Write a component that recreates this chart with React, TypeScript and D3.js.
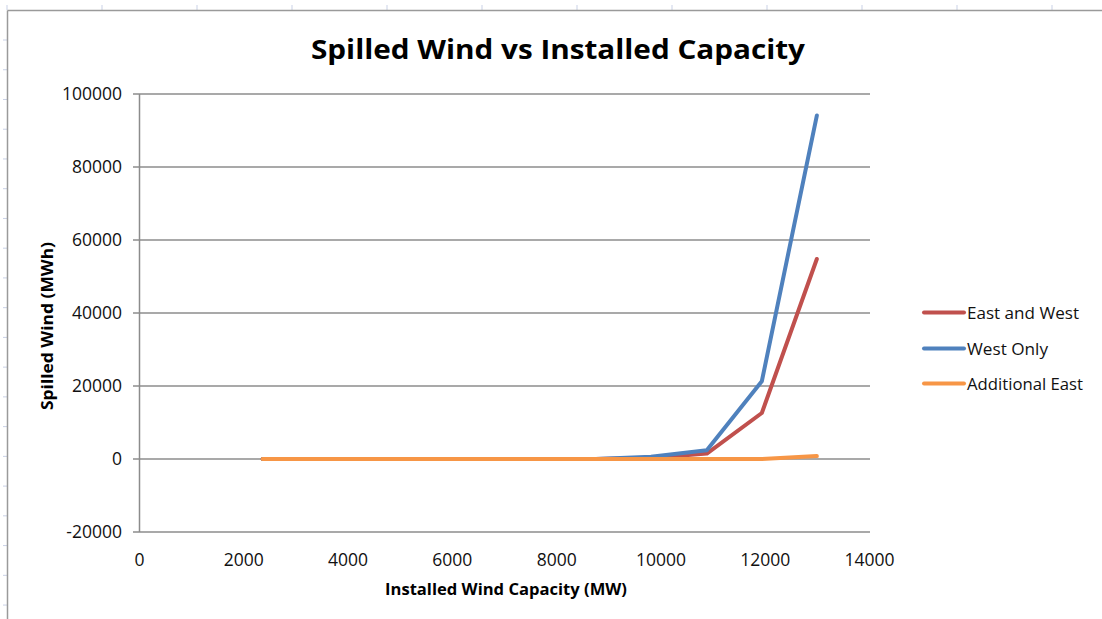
import React from "react";
import * as d3 from "d3";

// Installed wind capacity (MW) at each study point
const capacity = [2360, 3420, 4490, 5550, 6620, 7690, 8750, 9810, 10880, 11935, 12990];

// Spilled wind (MWh) per scenario
const eastAndWest = [0, 0, 0, 0, 0, 0, 0, 300, 1500, 12600, 54800];
const westOnly = [0, 0, 0, 0, 0, 0, 0, 600, 2400, 21300, 94100];
const additionalEast = [0, 0, 0, 0, 0, 0, 0, 0, 0, 0, 800];

const xTicks = [0, 2000, 4000, 6000, 8000, 10000, 12000, 14000];
const yTicks = [-20000, 0, 20000, 40000, 60000, 80000, 100000];

const seriesNames = ["East and West", "West Only", "Additional East"];
const seriesColors = ["#C0504D", "#4F81BD", "#F79646"];
const legendWidths = [112, 81, 116];

const W = 1102;
const H = 619;
const FONT = "'Open Sans', 'Liberation Sans', sans-serif";

export default function App() {
  const x = d3.scaleLinear().domain([0, 14000]).range([139.5, 869.5]);
  const y = d3.scaleLinear().domain([-20000, 100000]).range([532, 94]);

  const line = d3
    .line<[number, number]>()
    .x((d) => x(d[0]))
    .y((d) => y(d[1]));

  const series = [eastAndWest, westOnly, additionalEast].map((vals) =>
    capacity.map((c, i) => [c, vals[i]] as [number, number])
  );

  // worksheet cell marks peeking around the chart frame
  const colMarks = d3.range(0, 12).map((k) => 7 + k * 95);
  const rowMarks = d3.range(0, 20).map((k) => 40 + k * 29.74);

  const legendY = [312.5, 348.5, 383.5];

  return (
    <svg
      width={W}
      height={H}
      style={{ position: "absolute", left: 0, top: 0, background: "#fff" }}
      fontFamily={FONT}
    >
      <rect x={0} y={0} width={W} height={H} fill="#fff" />
      {colMarks.map((cx) => (
        <line key={"c" + cx} x1={cx} x2={cx} y1={5} y2={10} stroke="#c9d1e6" strokeWidth={1} />
      ))}
      {rowMarks.map((ry) => (
        <line key={"r" + ry} x1={3} x2={7} y1={ry} y2={ry} stroke="#c9d1e6" strokeWidth={1} />
      ))}
      {/* chart frame */}
      <line x1={7.5} x2={W} y1={10.5} y2={10.5} stroke="#9a9a9a" strokeWidth={1.5} />
      <line x1={7.5} x2={7.5} y1={10.5} y2={H} stroke="#9a9a9a" strokeWidth={1.5} />

      {/* title */}
      <text
        x={558}
        y={59}
        textAnchor="middle"
        fontSize={26}
        fontWeight="bold"
        fill="#000"
        textLength={494}
        lengthAdjust="spacingAndGlyphs"
      >
        Spilled Wind vs Installed Capacity
      </text>

      {/* horizontal gridlines with tick stubs */}
      {yTicks.map((t) => (
        <g key={"y" + t}>
          <line x1={133} x2={870} y1={y(t)} y2={y(t)} stroke="#8c8c8c" strokeWidth={1.5} />
          <text x={122} y={y(t) + 6} textAnchor="end" fontSize={17.5} fill="#111">
            {t}
          </text>
        </g>
      ))}
      {/* vertical axis */}
      <line x1={139.5} x2={139.5} y1={y(100000)} y2={y(-20000)} stroke="#8c8c8c" strokeWidth={1.5} />

      {/* x tick labels */}
      {xTicks.map((t) => (
        <text key={"x" + t} x={x(t)} y={566} textAnchor="middle" fontSize={17.5} fill="#111">
          {t}
        </text>
      ))}

      {/* axis titles */}
      <text
        x={506}
        y={595}
        textAnchor="middle"
        fontSize={15.5}
        fontWeight="bold"
        fill="#000"
        textLength={242}
        lengthAdjust="spacingAndGlyphs"
      >
        Installed Wind Capacity  (MW)
      </text>
      <text
        transform={`translate(53,326) rotate(-90)`}
        textAnchor="middle"
        fontSize={15.5}
        fontWeight="bold"
        fill="#000"
        textLength={168}
        lengthAdjust="spacingAndGlyphs"
      >
        Spilled Wind  (MWh)
      </text>

      {/* series lines */}
      {series.map((pts, i) => (
        <path
          key={seriesNames[i]}
          d={line(pts) || ""}
          fill="none"
          stroke={seriesColors[i]}
          strokeWidth={4}
          strokeLinejoin="round"
          strokeLinecap="round"
        />
      ))}

      {/* legend */}
      {seriesNames.map((name, i) => (
        <g key={"lg" + name}>
          <line
            x1={924}
            x2={964}
            y1={legendY[i]}
            y2={legendY[i]}
            stroke={seriesColors[i]}
            strokeWidth={4}
            strokeLinecap="round"
          />
          <text
            x={967}
            y={legendY[i] + 6}
            fontSize={16.5}
            fill="#111"
            textLength={legendWidths[i]}
            lengthAdjust="spacingAndGlyphs"
          >
            {name}
          </text>
        </g>
      ))}
    </svg>
  );
}
